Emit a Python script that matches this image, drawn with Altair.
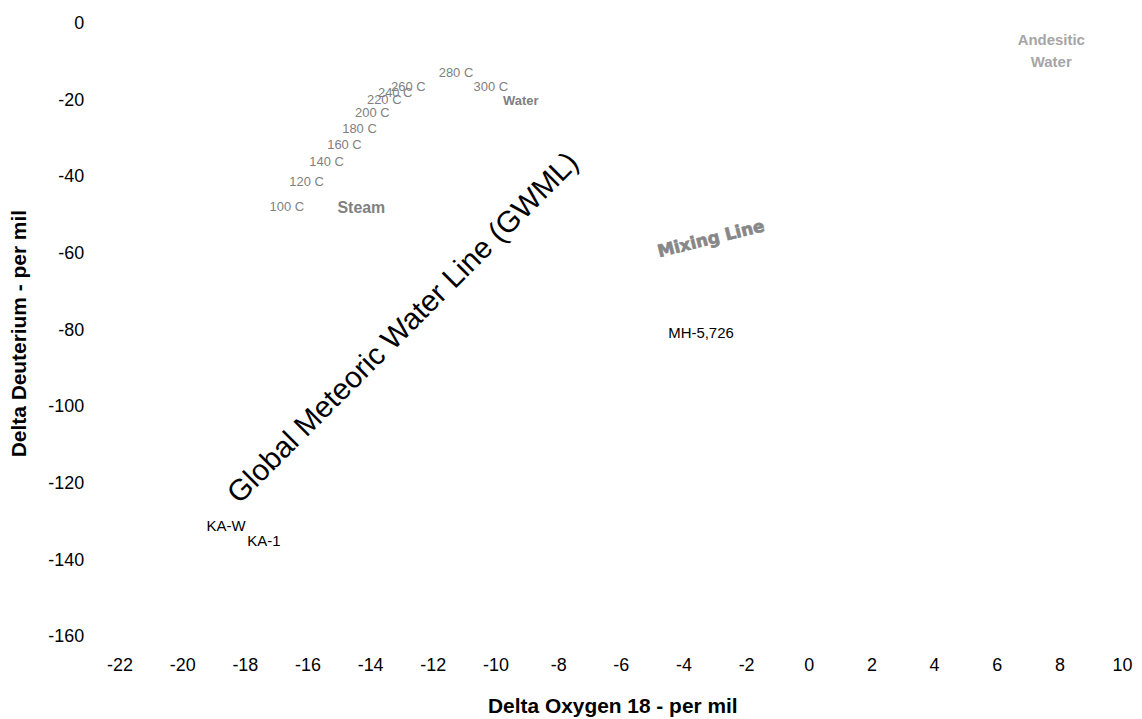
import altair as alt
import pandas as pd

# Axis ticks
x_ticks = list(range(-22, 11, 2))
y_ticks = list(range(-160, 1, 20))

# Steam-water fractionation temperature labels
temp_labels = ["100 C", "120 C", "140 C", "160 C", "180 C", "200 C", "220 C",
               "240 C", "260 C", "280 C", "300 C"]
temp_x = [-16.66, -16.03, -15.39, -14.82, -14.34, -13.93, -13.55, -13.20, -12.78, -11.26, -10.15]
temp_y = [-47.8, -41.3, -36.1, -31.7, -27.5, -23.4, -20.0, -18.2, -16.6, -13.0, -16.6]

# Phase labels
steam_label = ["Steam"]
steam_x = [-14.28]
steam_y = [-48.1]
water_label = ["Water"]
water_x = [-9.19]
water_y = [-20.3]

# Sample labels
sample_labels = ["KA-W", "KA-1", "MH-5,726"]
sample_x = [-18.60, -17.39, -3.44]
sample_y = [-131.2, -135.1, -80.8]

# Andesitic water
andes_label = ["Andesitic\nWater"]
andes_x = [7.74]
andes_y = [-4.4]

# Line annotations
gmwl_label = ["Global Meteoric Water Line (GWML)"]
gmwl_x = [-12.94]
gmwl_y = [-79.5]

mix_label = ["Mixing Line"]
mix_x = [-3.12]
mix_y = [-56.3]

FONT = "Liberation Sans"

xs = alt.Scale(domain=[-22, 10], nice=False, zero=False)
ys = alt.Scale(domain=[-160, 0], nice=False, zero=False)

x_axis = alt.Axis(values=x_ticks, title="Delta Oxygen 18 - per mil", grid=False, domain=False,
                  ticks=False, labelPadding=20, labelFontSize=18, labelFont=FONT, labelColor="#000",
                  labelFlush=False, labelOverlap=False, labelExpr="toString(datum.value)",
                  titleFont=FONT, titleFontSize=21, titleFontWeight="bold", titleColor="#000",
                  titleX=495, titleY=70, titleBaseline="middle", titleAlign="center")
y_axis = alt.Axis(values=y_ticks, title="Delta Deuterium - per mil", grid=False, domain=False,
                  ticks=False, labelPadding=36, labelFontSize=18, labelFont=FONT, labelColor="#000",
                  labelFlush=False, labelOverlap=False, labelExpr="toString(datum.value)",
                  titleFont=FONT, titleFontSize=21, titleFontWeight="bold", titleColor="#000",
                  titleX=-100, titleY=311, titleBaseline="middle", titleAlign="center", titleAngle=-90)

def df(labels, xv, yv):
    return pd.DataFrame({"label": labels, "x": xv, "y": yv})

def enc(ch, first=False):
    if first:
        return ch.encode(x=alt.X("x:Q", scale=xs, axis=x_axis),
                         y=alt.Y("y:Q", scale=ys, axis=y_axis), text="label:N")
    return ch.encode(x=alt.X("x:Q", scale=xs), y=alt.Y("y:Q", scale=ys), text="label:N")

temps = enc(alt.Chart(df(temp_labels, temp_x, temp_y)).mark_text(
    font=FONT, fontSize=13, color="#7f7f7f"), first=True)

steam = enc(alt.Chart(df(steam_label, steam_x, steam_y)).mark_text(
    font=FONT, fontSize=16, fontWeight="bold", color="#808080"))

water = enc(alt.Chart(df(water_label, water_x, water_y)).mark_text(
    font=FONT, fontSize=13, fontWeight="bold", color="#808080"))

samples = enc(alt.Chart(df(sample_labels, sample_x, sample_y)).mark_text(
    font=FONT, fontSize=15, color="#000"))

andes = enc(alt.Chart(df(andes_label, andes_x, andes_y)).mark_text(
    font=FONT, fontSize=15, fontWeight="bold", color="#a6a6a6", lineBreak="\n", lineHeight=22,
    baseline="middle"))

gmwl = enc(alt.Chart(df(gmwl_label, gmwl_x, gmwl_y)).mark_text(
    font=FONT, fontSize=30, color="#000", angle=315))

mix = enc(alt.Chart(df(mix_label, mix_x, mix_y)).mark_text(
    font="DejaVu Sans", fontSize=17, fontWeight="bold", color="#878787", angle=346,
    stroke="#878787", strokeWidth=0.7))

chart = alt.layer(temps, steam, water, samples, andes, gmwl, mix).properties(
    width=1007, height=616,
    autosize=alt.AutoSizeParams(type="none"),
    padding={"left": 112, "top": 14, "right": 12, "bottom": 80},
    background="white",
).configure_view(stroke=None)

chart.save("out.html", embed_options={"renderer": "svg", "actions": False})
